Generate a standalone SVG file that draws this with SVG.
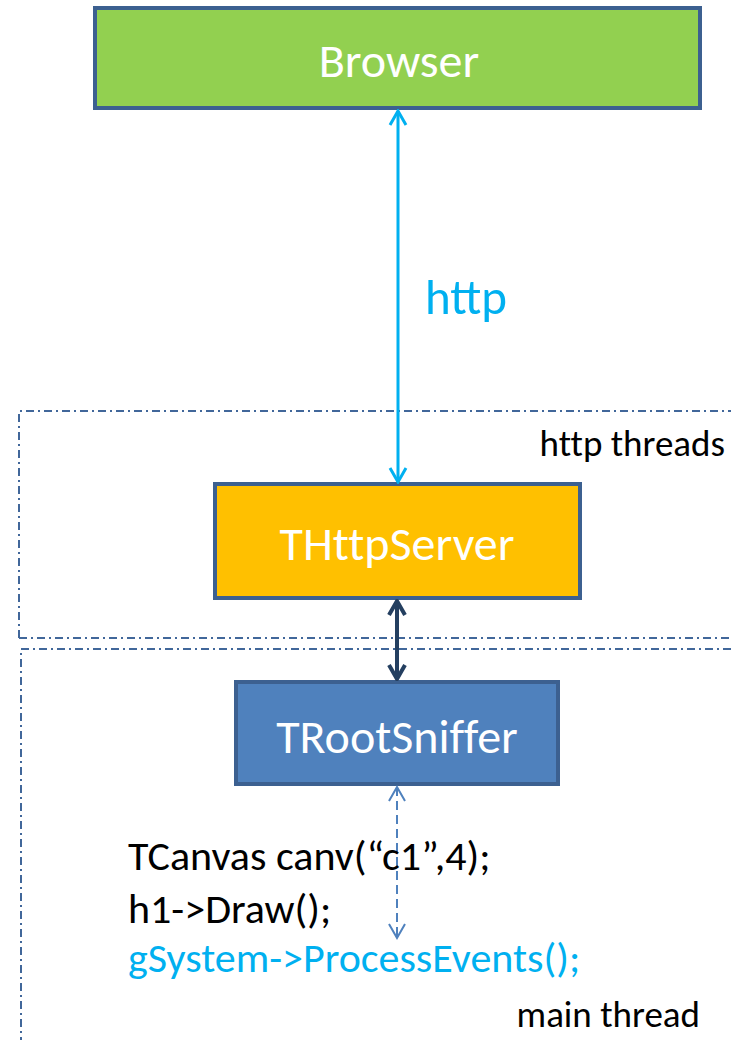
<svg xmlns="http://www.w3.org/2000/svg" width="731" height="1040" viewBox="0 0 731 1040">
<style>
  .box { stroke: #3C6090; stroke-width: 4; }
  .lbl { font-family: Carlito, Lato, "Open Sans", sans-serif; fill: #FFFFFF; text-anchor: middle; font-size: 48px; font-variant-ligatures: none; }
  .txt { font-family: Carlito, Lato, "Open Sans", sans-serif; fill: #000000; font-variant-ligatures: none; }
  .zone { fill: none; stroke: #41679A; stroke-width: 2; stroke-dasharray: 8 4 2 4; }
</style>
<defs>
  <marker id="hb" viewBox="0 0 20 20" refX="18" refY="10" markerWidth="20" markerHeight="20" markerUnits="userSpaceOnUse" orient="auto-start-reverse">
    <path d="M4,2 L18,10 L4,18" fill="none" stroke="#00B0F0" stroke-width="3"/>
  </marker>
  <marker id="hd" viewBox="0 0 20 20" refX="18" refY="10" markerWidth="20" markerHeight="20" markerUnits="userSpaceOnUse" orient="auto-start-reverse">
    <path d="M4,2 L18,10 L4,18" fill="none" stroke="#243F60" stroke-width="4"/>
  </marker>
  <marker id="hs" viewBox="0 0 20 20" refX="18" refY="10" markerWidth="20" markerHeight="20" markerUnits="userSpaceOnUse" orient="auto-start-reverse">
    <path d="M4,2 L18,10 L4,18" fill="none" stroke="#4F81BD" stroke-width="2"/>
  </marker>
</defs>
<rect width="731" height="1040" fill="#FFFFFF"/>

<g id="zones">
  <path class="zone" d="M19,638 L19,411 L735,411"/>
  <path class="zone" d="M19,638 L735,638"/>
  <path class="zone" d="M21,1045 L21,649 L735,649"/>
  <text class="txt" x="725" y="456" font-size="37" text-anchor="end">http threads</text>
  <text class="txt" x="700" y="1027" font-size="37" text-anchor="end">main thread</text>
</g>

<g id="browser">
  <rect class="box" x="95" y="8" width="605" height="100" fill="#92D050"/>
  <text class="lbl" x="399" y="77">Browser</text>
</g>

<g id="thttpserver">
  <rect class="box" x="215" y="484" width="365" height="114" fill="#FFC000"/>
  <text class="lbl" x="397" y="560">THttpServer</text>
</g>

<g id="trootsniffer">
  <rect class="box" x="236" y="682" width="322" height="102" fill="#4F81BD"/>
  <text class="lbl" x="397" y="753">TRootSniffer</text>
</g>

<g id="connectors">
  <line x1="398" y1="111" x2="398" y2="482" stroke="#00B0F0" stroke-width="3" marker-start="url(#hb)" marker-end="url(#hb)"/>
  <line x1="397" y1="601" x2="397" y2="679" stroke="#243F60" stroke-width="4" marker-start="url(#hd)" marker-end="url(#hd)"/>
  <line x1="397" y1="787" x2="397" y2="938" stroke="#4F81BD" stroke-width="2" stroke-dasharray="9 5" marker-start="url(#hs)" marker-end="url(#hs)"/>
  <text x="425" y="314" font-family="Carlito, Lato, 'Open Sans', sans-serif" font-size="49" fill="#00B0F0">http</text>
</g>

<g id="code">
  <text class="txt" x="128" y="870" font-size="42">TCanvas canv(“c1”,4);</text>
  <text class="txt" x="128" y="923" font-size="42">h1-&gt;Draw();</text>
  <text class="txt" x="128" y="972" font-size="42" style="fill:#00B0F0">gSystem-&gt;ProcessEvents();</text>
</g>
</svg>
